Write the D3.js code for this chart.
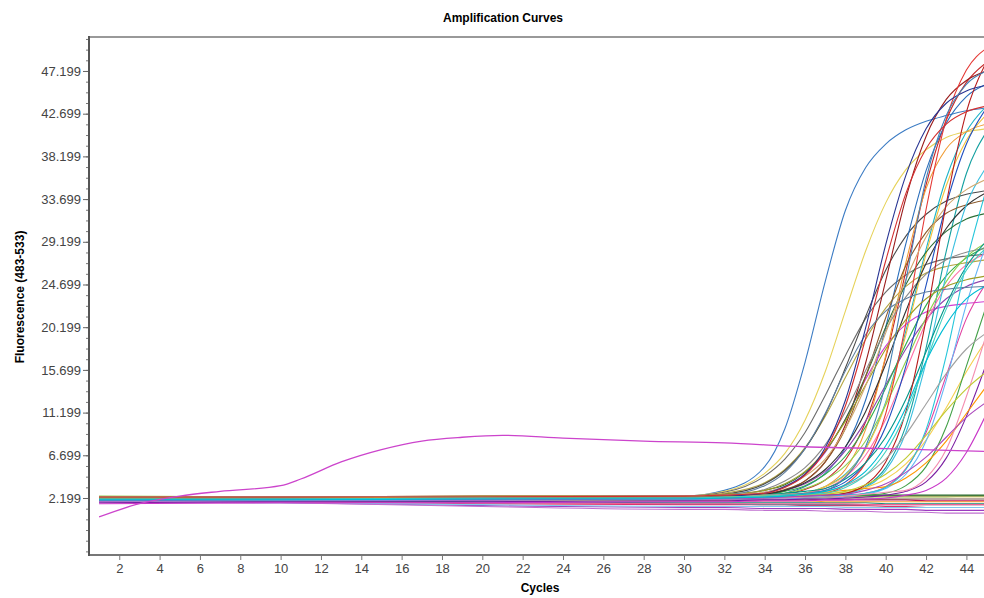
<!DOCTYPE html>
<html>
<head>
<meta charset="utf-8">
<script src="https://cdn.jsdelivr.net/npm/d3@7"></script>
<style>
  body { margin: 0; background: #fff; }
  svg { display: block; }
  .tick text { font-family: "Liberation Sans", Arial, sans-serif; font-size: 13px; fill: #444; }
</style>
</head>
<body>
<script>
const width = 984;
const height = 598;

// cycles where every well is sampled
const cycles = [1, 10, 20, 30, 32, 34, 35, 36, 37, 38, 39, 40, 41, 42, 43, 44, 45];

// wells that amplify
const blue1 = [2.1, 2.2, 2.3, 2.4, 3.0, 5.5, 9.5, 16.5, 25, 32.5, 37, 39.5, 41, 41.9, 42.5, 43, 43.3];
const yellow2 = [2.0, 2.1, 2.2, 2.4, 2.9, 4.8, 6.9, 10.4, 15.5, 21.9, 28.2, 33.3, 36.8, 38.9, 40.2, 40.8, 41.1];
const gray3 = [2.3, 2.2, 2.3, 2.4, 2.8, 4.5, 6.3, 9.1, 13, 17.2, 21.1, 23.9, 25.7, 26.8, 27.4, 27.7, 27.9];
const olive4 = [1.9, 2.0, 2.1, 2.3, 2.7, 3.8, 5.2, 7.5, 10.8, 14.9, 18.9, 22.2, 24.5, 25.9, 26.6, 27.0, 27.3];
const darkGray5 = [2.2, 2.3, 2.2, 2.3, 2.6, 3.7, 5.1, 7.4, 11, 15.9, 21.3, 26.2, 29.8, 32.1, 33.5, 34.2, 34.6];
const red6 = [2.1, 2.2, 2.2, 2.2, 2.2, 2.4, 2.6, 3.1, 4.1, 6.2, 10.2, 17, 26.1, 35.2, 42, 46, 48.1];
const red7 = [2.3, 2.3, 2.4, 2.4, 2.3, 2.6, 3.0, 4.0, 6.0, 9.9, 16.4, 25.1, 33.8, 40.3, 44.2, 46.2, 47.2];
const blue8 = [2.0, 2.1, 2.1, 2.2, 2.3, 2.4, 2.7, 3.4, 4.8, 7.5, 12.5, 20.2, 29, 36.7, 41.7, 44.5, 45.8];
const cyan9 = [2.2, 2.2, 2.3, 2.2, 2.2, 2.3, 2.4, 2.7, 3.4, 4.7, 7.4, 12.3, 19.8, 28.4, 35.9, 40.8, 43.5];
const teal10 = [2.1, 2.1, 2.1, 2.1, 2.1, 2.2, 2.2, 2.3, 2.4, 2.7, 3.4, 5.4, 9.8, 18, 28.2, 36.4, 40.8];
const orange11 = [2.2, 2.3, 2.2, 2.3, 2.3, 2.3, 2.4, 2.6, 3.4, 5.2, 9.4, 17.2, 27, 34.8, 39, 40.8, 41.6];
const gold12 = [2.0, 2.1, 2.2, 2.2, 2.2, 2.3, 2.4, 2.7, 3.4, 4.6, 7.3, 12.1, 19.4, 27.9, 35.1, 39.9, 42.6];
const magenta13 = [1.9, 2.0, 2.1, 2.2, 2.3, 2.8, 3.4, 4.7, 7.0, 10.5, 14.7, 18.2, 20.5, 21.8, 22.4, 22.7, 22.9];
const purple14 = [2.0, 2.1, 2.0, 2.1, 2.3, 2.6, 3.0, 3.7, 5.0, 7.2, 10.3, 14.1, 17.9, 21.0, 23.2, 24.5, 25.2];
const green15 = [2.2, 2.3, 2.3, 2.3, 2.4, 2.5, 2.9, 3.5, 4.7, 6.6, 9.7, 13.8, 18.4, 22.5, 25.6, 27.5, 28.7];
const lightGreen16 = [2.4, 2.3, 2.2, 2.2, 2.3, 2.4, 2.7, 3.2, 4.1, 5.6, 8.2, 12, 16.6, 21.2, 25, 27.6, 29.1];
const darkGreen17 = [2.1, 2.2, 2.2, 2.3, 2.4, 3.0, 3.6, 4.9, 7.1, 10.5, 15, 20.2, 24.7, 28.1, 30.3, 31.6, 32.2];
const pink18 = [1.8, 1.9, 2.0, 2.1, 2.2, 2.3, 2.4, 2.7, 3.2, 4.4, 6.7, 10.5, 15.6, 20.7, 24.5, 26.8, 28.0];
const brown19 = [2.2, 2.2, 2.3, 2.3, 2.4, 2.6, 3.1, 4.0, 6.0, 9.5, 15.0, 21.2, 26.7, 30.2, 32.2, 33.1, 33.6];
const gray20 = [2.3, 2.3, 2.3, 2.3, 2.4, 3.1, 4.0, 5.4, 7.8, 11.3, 15.6, 19.9, 23.4, 25.8, 27.3, 28.1, 28.5];
const black21 = [2.2, 2.2, 2.2, 2.3, 2.4, 2.6, 3.0, 3.8, 5.2, 7.6, 11.3, 16.3, 21.9, 26.9, 30.6, 33.0, 34.4];
const cyan22 = [2.0, 2.0, 2.1, 2.1, 2.1, 2.2, 2.2, 2.3, 2.4, 2.6, 3.3, 5.1, 9.1, 16.5, 25.7, 33.1, 37.1];
const blue23 = [2.1, 2.1, 2.2, 2.2, 2.2, 2.3, 2.4, 2.6, 3.0, 3.9, 5.9, 9.7, 16.1, 24.6, 33.1, 39.5, 43.3];
const red24 = [2.2, 2.2, 2.3, 2.3, 2.3, 2.3, 2.4, 2.5, 2.7, 3.6, 5.9, 11.1, 20.6, 32.6, 42.1, 47.3, 49.6];
const magenta25 = [1.9, 2.0, 2.0, 2.1, 2.1, 2.2, 2.2, 2.3, 2.4, 2.5, 2.7, 3.4, 5.3, 9.1, 15.1, 21.1, 24.9];
const yellow26 = [2.3, 2.3, 2.3, 2.4, 2.4, 2.5, 2.5, 2.6, 2.7, 2.8, 3.3, 4.2, 5.8, 8.3, 11.7, 15.5, 18.9];
const lightBlue27 = [1.9, 1.9, 2.0, 2.0, 2.1, 2.1, 2.1, 2.2, 2.2, 2.3, 2.6, 3.2, 4.7, 8.2, 14.6, 22.6, 29.0];
const green28 = [2.0, 2.1, 2.1, 2.2, 2.2, 2.2, 2.3, 2.3, 2.3, 2.4, 2.5, 2.7, 3.5, 5.5, 9.7, 16.1, 22.5];
const purple29 = [1.7, 1.8, 1.8, 1.9, 1.9, 2.0, 2.0, 2.1, 2.1, 2.2, 2.3, 2.5, 2.9, 3.9, 6.4, 10.8, 16.4];
const orange30 = [2.2, 2.2, 2.3, 2.3, 2.4, 2.5, 2.6, 2.7, 2.8, 3.0, 3.2, 3.4, 4.3, 5.9, 8.2, 11.1, 14.0];
const magenta31 = [1.6, 1.7, 1.7, 1.8, 1.8, 1.9, 1.9, 1.9, 2.0, 2.0, 2.1, 2.2, 2.5, 3.0, 4.3, 7.0, 11.1];
const teal32 = [2.1, 2.1, 2.2, 2.2, 2.3, 2.5, 2.7, 2.9, 3.2, 4.2, 5.9, 8.6, 12.6, 17.6, 22.6, 26.6, 29.3];
const olive33 = [2.3, 2.3, 2.4, 2.4, 2.6, 3.0, 3.7, 5.0, 7.2, 10.3, 14.1, 17.9, 21.0, 23.2, 24.5, 25.2, 25.6];
const steel34 = [2.2, 2.3, 2.3, 2.4, 2.5, 3.5, 4.9, 7.4, 11.1, 15.6, 19.4, 21.9, 23.2, 23.9, 24.2, 24.4, 24.5];
const tan35 = [2.2, 2.3, 2.3, 2.4, 2.5, 2.8, 3.4, 4.5, 6.3, 9.5, 14.0, 19.6, 25.2, 29.7, 32.9, 34.7, 35.8];
const red36 = [2.1, 2.2, 2.2, 2.2, 2.3, 2.3, 2.3, 2.4, 2.5, 2.7, 3.6, 6.0, 11.3, 21.0, 33.2, 42.9, 48.2];
const cyan37 = [2.1, 2.1, 2.1, 2.2, 2.2, 2.2, 2.3, 2.3, 2.4, 2.5, 2.7, 3.3, 5.2, 9.4, 17.2, 27.0, 34.8];
const gray38 = [2.3, 2.3, 2.3, 2.4, 2.4, 2.5, 2.6, 2.7, 2.9, 3.5, 4.6, 6.3, 8.9, 12.1, 15.3, 17.9, 19.6];
const pink39 = [2.0, 2.0, 2.1, 2.1, 2.1, 2.2, 2.2, 2.3, 2.3, 2.4, 2.6, 2.8, 3.0, 4.3, 7.3, 12.9, 19.5];
const darkBlue40 = [2.2, 2.2, 2.3, 2.3, 2.4, 2.7, 3.4, 4.7, 7.5, 12.5, 20.1, 28.9, 36.2, 41.1, 43.8, 45.1, 45.7];
const lime41 = [2.2, 2.2, 2.3, 2.3, 2.3, 2.4, 2.4, 2.5, 2.6, 2.9, 3.6, 4.7, 6.4, 8.8, 11.4, 13.7, 15.5];
const purple42 = [1.9, 2.0, 2.0, 2.1, 2.1, 2.2, 2.3, 2.4, 2.5, 2.6, 3.0, 3.7, 4.9, 6.5, 8.6, 10.7, 12.3];
const steel43 = [2.0, 2.1, 2.1, 2.2, 2.2, 2.3, 2.5, 2.7, 3.0, 4.4, 7.6, 14.3, 25.1, 35.8, 42.5, 45.8, 47.2];
const red44 = [2.3, 2.3, 2.3, 2.4, 2.5, 2.7, 3.3, 4.6, 7.2, 11.9, 19.0, 27.2, 34.3, 39.0, 41.6, 42.9, 43.5];
const turquoise45 = [2.1, 2.1, 2.2, 2.2, 2.3, 2.4, 2.5, 2.6, 2.7, 3.3, 4.6, 7.1, 11.1, 16.6, 22.1, 26.2, 28.6];
const cyan46 = [2.0, 2.0, 2.1, 2.1, 2.2, 2.3, 2.4, 2.6, 2.9, 3.6, 5.0, 7.7, 11.7, 16.6, 20.5, 23.2, 24.6];

// wells that stay flat
const flat1 = [1.9, 2.0, 2.1, 2.2, 2.2, 2.2, 2.3, 2.3, 2.3, 2.3, 2.3, 2.3, 2.3, 2.3, 2.3, 2.4, 2.4];
const flat2 = [1.8, 1.7, 1.4, 1.2, 1.2, 1.1, 1.1, 1.1, 1.1, 1.0, 1.0, 1.0, 1.0, 0.9, 0.9, 0.9, 0.9];
const flat3 = [1.9, 1.8, 1.6, 1.5, 1.5, 1.5, 1.5, 1.4, 1.4, 1.4, 1.4, 1.3, 1.3, 1.2, 1.2, 1.2, 1.2];
const flat4 = [1.8, 1.7, 1.5, 1.3, 1.3, 1.3, 1.3, 1.3, 1.3, 1.2, 1.2, 1.2, 1.2, 1.2, 1.2, 1.2, 1.2];
const flat5 = [2.0, 2.1, 2.3, 2.3, 2.3, 2.4, 2.4, 2.4, 2.4, 2.4, 2.4, 2.4, 2.4, 2.4, 2.4, 2.4, 2.4];
const flat6 = [1.9, 1.7, 1.3, 1.0, 1.0, 0.9, 0.9, 0.9, 0.8, 0.8, 0.8, 0.7, 0.7, 0.7, 0.6, 0.6, 0.6];
const flat7 = [1.9, 1.9, 1.8, 1.7, 1.7, 1.7, 1.7, 1.7, 1.7, 1.7, 1.7, 1.6, 1.6, 1.6, 1.6, 1.6, 1.6];
const flat8 = [2.0, 2.1, 2.2, 2.3, 2.3, 2.3, 2.3, 2.3, 2.3, 2.3, 2.3, 2.3, 2.3, 2.3, 2.3, 2.3, 2.3];
const flat9 = [1.9, 2.0, 2.0, 2.1, 2.1, 2.1, 2.1, 2.1, 2.0, 2.0, 2.0, 2.0, 2.0, 1.9, 1.9, 1.9, 1.9];
const flat10 = [1.9, 1.9, 1.7, 1.6, 1.6, 1.5, 1.5, 1.5, 1.5, 1.5, 1.5, 1.5, 1.5, 1.5, 1.5, 1.5, 1.5];
const flat11 = [2.0, 2.0, 2.1, 2.1, 2.1, 2.1, 2.1, 2.1, 2.1, 2.1, 2.1, 2.1, 2.1, 2.1, 2.1, 2.1, 2.1];
const flat12 = [2.0, 2.0, 2.0, 1.9, 1.9, 1.9, 1.9, 1.9, 1.8, 1.8, 1.8, 1.8, 1.8, 1.8, 1.8, 1.8, 1.8];
const flat13 = [2.0, 2.1, 2.2, 2.4, 2.4, 2.5, 2.5, 2.5, 2.5, 2.5, 2.5, 2.5, 2.5, 2.5, 2.5, 2.5, 2.5];
const flat14 = [1.9, 1.8, 1.7, 1.6, 1.6, 1.6, 1.6, 1.6, 1.6, 1.6, 1.5, 1.5, 1.5, 1.5, 1.5, 1.5, 1.5];

// the odd magenta well that drifts up early
const driftCycles = [1, 3, 5, 7, 10, 11, 13, 15, 17, 19, 21, 24, 28, 32, 36, 40, 45];
const driftValues = [0.2, 1.6, 2.4, 2.9, 3.5, 4.2, 6.0, 7.3, 8.2, 8.6, 8.8, 8.5, 8.2, 8.0, 7.6, 7.4, 7.1];

const flatWells = [
  [flat1, '#5cb85c'], [flat2, '#9c3cc0'], [flat3, '#e0306e'], [flat4, '#7fcbed'],
  [flat5, '#5a6e30'], [flat6, '#c070d0'], [flat7, '#16897b'], [flat8, '#e8dc8a'],
  [flat9, '#c2185b'], [flat10, '#6a8593'], [flat11, '#7a5548'], [flat12, '#f5a030'],
  [flat13, '#2a6a2a'], [flat14, '#f06292']
];

const ampWells = [
  [blue1, '#3c7cc4'], [yellow2, '#e6d25a'], [gray3, '#6b6b6b'], [olive4, '#b5a642'],
  [darkGray5, '#4a4a4a'], [red6, '#c62828'], [red7, '#9a1c1c'], [blue8, '#2a6ebb'],
  [cyan9, '#1eb4c8'], [teal10, '#14a0a0'], [orange11, '#f09c34'], [gold12, '#f2c23c'],
  [magenta13, '#d23cd2'], [purple14, '#8e44ad'], [green15, '#2fae4a'], [lightGreen16, '#8fd14f'],
  [darkGreen17, '#2a6e34'], [pink18, '#ff6fa8'], [brown19, '#8b5a2b'], [gray20, '#8a8a8a'],
  [black21, '#333333'], [cyan22, '#3cc0e0'], [blue23, '#1f4fbf'], [red24, '#e53935'],
  [magenta25, '#e040a0'], [yellow26, '#f5d04f'], [lightBlue27, '#64b5f6'], [green28, '#43a047'],
  [purple29, '#7b1fa2'], [orange30, '#ff9800'], [magenta31, '#c837c8'], [teal32, '#009688'],
  [olive33, '#9e9d24'], [steel34, '#5f7f9f'], [tan35, '#d2a86e'], [red36, '#b71c1c'],
  [cyan37, '#26c6da'], [gray38, '#a0a0a0'], [pink39, '#f48fb1'], [darkBlue40, '#283593'],
  [lime41, '#c0ca33'], [purple42, '#ab47bc'], [steel43, '#4682b4'], [red44, '#d32f2f'],
  [turquoise45, '#40d0c0'], [cyan46, '#00bcd4']
];

const yTickValues = [2.199, 6.699, 11.199, 15.699, 20.199, 24.699, 29.199, 33.699, 38.199, 42.699, 47.199];
const xTickValues = [2, 4, 6, 8, 10, 12, 14, 16, 18, 20, 22, 24, 26, 28, 30, 32, 34, 36, 38, 40, 42, 44];

const plotLeft = 89, plotTop = 37, plotBottom = 555;

const x = d3.scaleLinear().domain([0.5, 45.5]).range([plotLeft, plotLeft + 45 * 20.17]);
const y = d3.scaleLinear().domain([-3.808, 50.78]).range([plotBottom, plotTop]);

const svg = d3.select('body').append('svg')
    .attr('width', width)
    .attr('height', height);

svg.append('clipPath').attr('id', 'plot')
  .append('rect')
    .attr('x', plotLeft + 1).attr('y', plotTop + 1)
    .attr('width', width - plotLeft).attr('height', plotBottom - plotTop - 2);

const line = d3.line()
    .x(d => x(d[0]))
    .y(d => y(d[1]))
    .curve(d3.curveMonotoneX);

const curves = svg.append('g').attr('clip-path', 'url(#plot)');

flatWells.concat(ampWells).forEach(([vals, color]) => {
  curves.append('path')
      .attr('d', line(cycles.map((c, i) => [c, vals[i]])))
      .attr('fill', 'none')
      .attr('stroke', color)
      .attr('stroke-width', 1.1);
});

curves.append('path')
    .attr('d', line(driftCycles.map((c, i) => [c, driftValues[i]])))
    .attr('fill', 'none')
    .attr('stroke', '#cc44cc')
    .attr('stroke-width', 1.3);

// minor y ticks, 4 steps between labelled ticks
const minor = d3.range(-3.426, 50.8, 1.125);
svg.append('g')
    .attr('transform', `translate(${plotLeft},0)`)
    .call(d3.axisLeft(y).tickValues(minor).tickSize(3).tickFormat(''))
    .call(g => g.select('.domain').remove())
    .call(g => g.selectAll('line').attr('stroke', '#777'));

svg.append('g')
    .attr('transform', `translate(${plotLeft},0)`)
    .call(d3.axisLeft(y).tickValues(yTickValues).tickSize(6).tickPadding(2).tickFormat(d3.format('.3f')))
    .call(g => g.select('.domain').remove())
    .call(g => g.selectAll('line').attr('stroke', '#666'));

svg.append('g')
    .attr('transform', `translate(0,${plotBottom})`)
    .call(d3.axisBottom(x).tickValues(xTickValues).tickSize(5).tickPadding(4))
    .call(g => g.select('.domain').remove())
    .call(g => g.selectAll('line').attr('stroke', '#777'));

// frame
svg.append('line').attr('x1', plotLeft).attr('x2', width).attr('y1', plotTop).attr('y2', plotTop)
    .attr('stroke', '#999').attr('stroke-width', 2);
svg.append('line').attr('x1', plotLeft).attr('x2', width).attr('y1', plotBottom).attr('y2', plotBottom)
    .attr('stroke', '#777').attr('stroke-width', 2);
svg.append('line').attr('x1', plotLeft).attr('x2', plotLeft).attr('y1', plotTop - 1).attr('y2', plotBottom + 1)
    .attr('stroke', '#555').attr('stroke-width', 2);

svg.append('text')
    .attr('x', 503).attr('y', 22)
    .attr('text-anchor', 'middle')
    .style('font-family', '"Liberation Sans Narrow", "Liberation Sans", Arial, sans-serif')
    .style('font-weight', 'bold').style('font-size', '12px')
    .text('Amplification Curves');

svg.append('text')
    .attr('transform', 'translate(24,297) rotate(-90)')
    .attr('text-anchor', 'middle')
    .style('font-family', '"Liberation Sans Narrow", "Liberation Sans", Arial, sans-serif')
    .style('font-weight', 'bold').style('font-size', '12px')
    .text('Fluorescence (483-533)');

svg.append('text')
    .attr('x', 540).attr('y', 592)
    .attr('text-anchor', 'middle')
    .style('font-family', '"Liberation Sans Narrow", "Liberation Sans", Arial, sans-serif')
    .style('font-weight', 'bold').style('font-size', '12px')
    .text('Cycles');
</script>
</body>
</html>
